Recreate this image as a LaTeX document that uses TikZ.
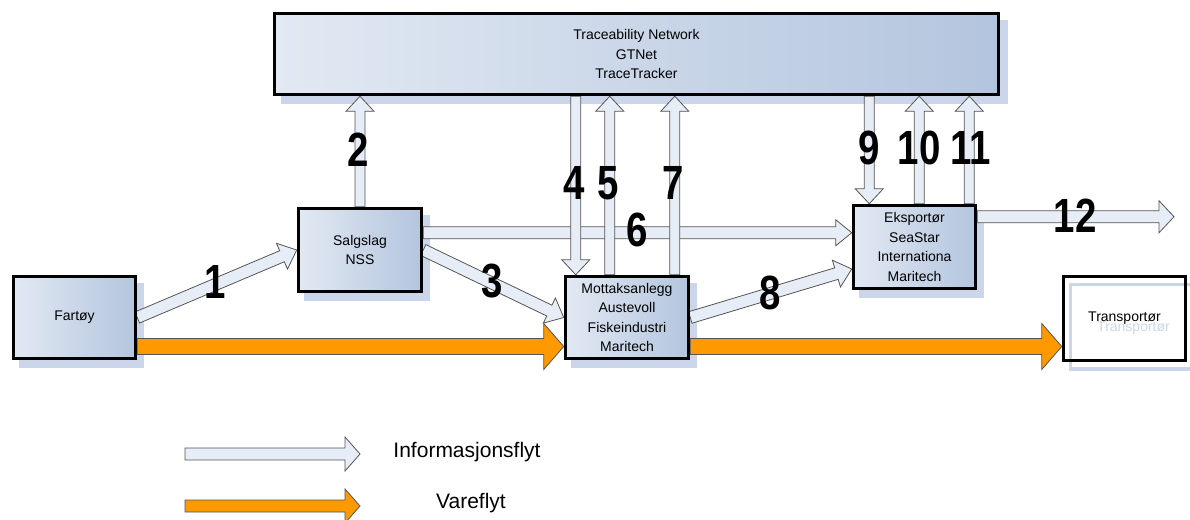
\documentclass[tikz,border=0pt]{standalone}
\usepackage{fontspec}
\usepackage{graphicx}
\setmainfont{Liberation Sans}
\usetikzlibrary{calc}
\definecolor{boxlight}{HTML}{E2E9F3}
\definecolor{boxdark}{HTML}{B3C5DE}
\definecolor{infofill}{HTML}{E6EDF7}
\definecolor{arrowline}{HTML}{555555}
\definecolor{flowor}{HTML}{FF9900}
\definecolor{shadowcol}{HTML}{CCD6EA}
\definecolor{ghost}{HTML}{C9D6EA}
\pgfdeclarelayer{shadowlayer}
\pgfdeclarelayer{arrowlayer}
\pgfdeclarelayer{frontlayer}
\pgfsetlayers{shadowlayer,arrowlayer,main,frontlayer}
\newcommand\blockarrow[6]{%
  \path[#1] let \p1=(#2), \p2=(#3),
    \n1={atan2(\y2-\y1,\x2-\x1)}, \n2={veclen(\x2-\x1,\y2-\y1)} in
    [shift={(\p1)}, rotate=\n1]
    (0,#4) -- ({\n2-#6},#4) -- ({\n2-#6},#5) -- (\n2,0)
    -- ({\n2-#6},-#5) -- ({\n2-#6},-#4) -- (0,-#4) -- cycle;}
\tikzset{
  box/.style={draw=black, line width=3.5pt, left color=boxlight, right color=boxdark,
    inner sep=0pt, align=center, font=\fontsize{14}{19.5}\selectfont},
  plainbox/.style={draw=black, line width=3.5pt, fill=none,
    inner sep=0pt, align=center, font=\fontsize{14}{19.5}\selectfont},
  info/.style={draw=arrowline, fill=infofill, line width=0.8pt, line join=miter},
  goods/.style={draw=arrowline, fill=flowor, line width=0.8pt, line join=miter},
  shade/.style={fill=shadowcol},
  num/.style={inner sep=0pt, font=\fontsize{48}{48}\selectfont\bfseries},
  legend/.style={inner sep=0pt, font=\fontsize{21}{21}\selectfont},
}
\begin{document}
\begin{tikzpicture}[x=1pt,y=-1pt]
\useasboundingbox (0,0) rectangle (1190,519);

% boxes
\node[box, minimum width=724pt, minimum height=81pt] (top) at (636.5,54) {Traceability Network\\GTNet\\TraceTracker};
\node[box, minimum width=122pt, minimum height=82pt] (fart) at (74.5,317.5) {Fartøy};
\node[box, minimum width=123pt, minimum height=83pt] (sal) at (360,250) {Salgslag\\NSS};
\node[box, minimum width=123pt, minimum height=82pt] (mott) at (627,317.5) {Mottaksanlegg\\Austevoll\\Fiskeindustri\\Maritech};
\node[box, minimum width=122pt, minimum height=83pt] (eks) at (914.5,247) {Eksportør\\SeaStar\\Internationa\\Maritech};
\node[plainbox, minimum width=122pt, minimum height=84pt] (trans) at (1124.5,318.5) {Transportør};

% shadows
\begin{pgfonlayer}{shadowlayer}
  \fill[shade] ($(top.north west)+(8,8)$) rectangle ($(top.south east)+(8,8)$);
  \foreach \b in {fart,sal,mott,eks}
    \fill[shade] ($(\b.north west)+(7,8)$) rectangle ($(\b.south east)+(7,8)$);
  \draw[shadowcol, line width=3.5pt] ($(trans.north west)+(8.5,9.5)$) rectangle ($(trans.south east)+(5.5,6.5)$);
  \node[inner sep=0pt, text=ghost, font=\fontsize{14}{14}\selectfont] (transghost) at ($(trans.center)+(9,10)$) {Transportør};
\end{pgfonlayer}

% connection points
\coordinate (c4) at ($(mott.north west)+(12,0)$);
\coordinate (c5) at ($(mott.north west)+(46,0)$);
\coordinate (c7) at ($(mott.north west)+(111,0)$);
\coordinate (c9) at ($(eks.north west)+(17.5,0)$);
\coordinate (c10) at ($(eks.north west)+(67.5,0)$);
\coordinate (c11) at ($(eks.north west)+(117.5,0)$);
\coordinate (c6) at ($(sal.north east)+(0,26)$);
\coordinate (c8) at ($(eks.west)+(0,22)$);
\coordinate (c12) at ($(eks.north east)+(0,13)$);
\coordinate (e12) at (1174,0 |- c12);
\coordinate (o1) at ($(fart.east)+(0,29)$);
\coordinate (o2) at ($(mott.east)+(0,29)$);

\begin{pgfonlayer}{arrowlayer}
  % goods flow
  \blockarrow{goods}{o1}{mott.west |- o1}{8}{23}{20}
  \blockarrow{goods}{o2}{trans.west |- o2}{8}{23}{20}
  % information flow
  \blockarrow{info}{c6}{eks.west |- c6}{6}{13}{16}
  \blockarrow{info}{fart.east}{sal.west}{6}{14}{16}
  \blockarrow{info}{sal.north}{sal.north |- top.south}{5}{14}{15}
  \blockarrow{info}{sal.east}{mott.west}{6}{14}{16}
  \blockarrow{info}{c4 |- top.south}{c4}{5}{14}{15}
  \blockarrow{info}{c5}{c5 |- top.south}{5}{14}{15}
  \blockarrow{info}{c7}{c7 |- top.south}{5}{14}{15}
  \blockarrow{info}{mott.east}{c8}{6}{14}{16}
  \blockarrow{info}{c9 |- top.south}{c9}{5}{14}{15}
  \blockarrow{info}{c10}{c10 |- top.south}{5}{14}{15}
  \blockarrow{info}{c11}{c11 |- top.south}{5}{14}{15}
  \blockarrow{info}{c12}{e12}{6}{16}{15}
\end{pgfonlayer}

% number labels
\begin{pgfonlayer}{frontlayer}
  \node[num] (n1) at (215,282) {\scalebox{0.8}[1]{1}};
  \node[num] (n2) at (358,150) {\scalebox{0.8}[1]{2}};
  \node[num] (n3) at (492,281) {\scalebox{0.8}[1]{3}};
  \node[num] (n4) at (574,183) {\scalebox{0.8}[1]{4}};
  \node[num] (n5) at (608,183) {\scalebox{0.8}[1]{5}};
  \node[num] (n6) at (637,230) {\scalebox{0.8}[1]{6}};
  \node[num] (n7) at (673,183) {\scalebox{0.8}[1]{7}};
  \node[num] (n8) at (770,293) {\scalebox{0.8}[1]{8}};
  \node[num] (n9) at (869,148) {\scalebox{0.8}[1]{9}};
  \node[num] (n10) at (919,148) {\scalebox{0.8}[1]{10}};
  \node[num] (n11) at (971,148) {\scalebox{0.8}[1]{11}};
  \node[num] (n12) at (1075,216) {\scalebox{0.8}[1]{12}};
\end{pgfonlayer}

% legend
\coordinate (la) at (185,454);
\coordinate (lb) at (360,454);
\coordinate (lc) at (185,506);
\coordinate (ld) at (360,506);
\blockarrow{info}{la}{lb}{6}{17}{15}
\blockarrow{goods}{lc}{ld}{6}{17}{15}
\node[legend] (tinfo) at (467,452) {Informasjonsflyt};
\node[legend] (tgoods) at (471,503) {Vareflyt};
\end{tikzpicture}
\end{document}
